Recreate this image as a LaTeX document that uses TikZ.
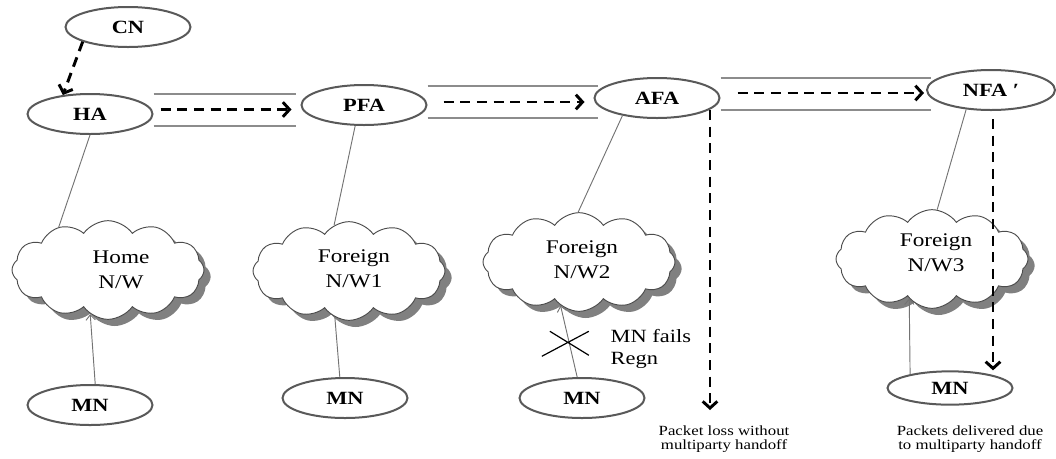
\documentclass[tikz,border=0pt]{standalone}
\usepackage{fontspec}
\setmainfont{Liberation Serif}[FakeStretch=1.2]
\usetikzlibrary{shapes.geometric,shapes.symbols,shadows,arrows.meta,calc}
\begin{document}
\begin{tikzpicture}[x=0.75pt,y=-0.75pt,
  agent/.style={ellipse, draw=black!65, line width=1.5pt, minimum width=93.75pt, minimum height=30pt, inner sep=0pt, font=\fontsize{14}{16}\selectfont\bfseries, fill=white},
  net/.style={cloud, cloud puffs=12, cloud puff arc=110, cloud ignores aspect, draw=black!70, line width=0.7pt, fill=white, minimum width=144pt, minimum height=74pt, drop shadow={shadow xshift=5pt, shadow yshift=-5pt, fill=black!50, opacity=1}},
  nettext/.style={align=center, font=\fontsize{14.5}{19}\selectfont},
  link/.style={draw=black!55, line width=0.7pt},
  linkarr/.style={link, -{Straight Barb[length=4pt,width=7pt]}},
  msg/.style={line width=2.2pt, dash pattern=on 7.5pt off 5pt, -{Straight Barb[length=5pt,width=11pt]}},
  tunnel/.style={draw=black!45, line width=0.8pt},
  note/.style={align=center, font=\fontsize{10.5}{11}\selectfont}
]
\useasboundingbox (0,0) rectangle (1056,458);

% agents
\node[agent] (CN) at (128,27) {CN};
\node[agent] (HA) at (90,114) {HA};
\node[agent] (PFA) at (364,105) {PFA};
\node[agent] (AFA) at (657,98) {AFA};
\node[agent, minimum width=96pt] (NFA) at (991,90) {NFA ′};

% networks
\node[net, label={[nettext,xshift=9.75pt]center:Home\\N/W}] (home) at (108,270) {};
\node[net, label={[nettext,xshift=3.75pt,yshift=1.5pt]center:Foreign\\N/W1}] (fn1) at (349,271) {};
\node[net, label={[nettext,xshift=2.25pt,yshift=1.5pt]center:Foreign\\N/W2}] (fn2) at (579,262) {};
\node[net, label={[nettext,xshift=3pt,yshift=4.5pt]center:Foreign\\N/W3}] (fn3) at (932,259) {};

% mobile nodes
\node[agent] (MN1) at (90,405) {MN};
\node[agent] (MN2) at (345,398) {MN};
\node[agent] (MN3) at (582,398) {MN};
\node[agent, minimum height=25pt] (MN4) at (950,388) {MN};

% tunnels
\draw[tunnel] ($(HA.east)+(0,-20)$) -- ++(142,0);
\draw[tunnel] ($(HA.east)+(0,12)$) -- ++(142,0);
\draw[tunnel] ($(PFA.east)+(0,-19)$) -- ++(170,0);
\draw[tunnel] ($(PFA.east)+(0,13)$) -- ++(170,0);
\draw[tunnel] ($(AFA.east)+(0,-20)$) -- ++(210,0);
\draw[tunnel] ($(AFA.east)+(0,12)$) -- ++(210,0);

% thin links
\draw[link] (HA.south) -- (home.139);
\draw[link] (PFA.247) -- (fn1.108);
\draw[link] (AFA.207) -- (fn2.91);
\draw[link] (NFA.218) -- (fn3.84);
\draw[linkarr] (MN1.76) -- (home.248);
\draw[link] (fn1.253) -- (MN2.104);
\draw[linkarr] (MN3.103) -- coordinate (cut) (fn2.247);
\draw[linkarr] (MN4.161) -- (fn3.240);
\draw[line width=0.9pt] ($(cut)+(-27,15)$) -- ($(cut)+(20,-10)$)
                        ($(cut)+(-19,-10)$) -- ($(cut)+(20,14)$);
\node[align=left, anchor=west, font=\fontsize{14}{16.5}\selectfont] (fails) at (606,349) {MN fails\\Regn};

% messages
\draw[msg] (CN.198) -- (HA.145);
\draw[msg] ($(HA.east)+(7,-4.5)$) -- ($(PFA.west)+(-9,4.5)$);
\draw[msg] ($(PFA.east)+(16,-3)$) -- ($(AFA.west)+(-9,4)$);
\draw[msg] ($(AFA.east)+(17,-5)$) -- ($(NFA.west)+(-2,3)$);
\coordinate (loss) at (710,410);
\draw[msg] ($(loss |- AFA.center)+(0,12)$) -- (loss);
\draw[msg] ($(NFA.south)+(2,8)$) -- ($(MN4.north -| NFA.south)+(2,0)$);

\node[note] (lossnote) at (724,439) {Packet loss without\\multiparty handoff};
\node[note] (delnote) at (970,439) {Packets delivered due\\to multiparty handoff};
\end{tikzpicture}
\end{document}
